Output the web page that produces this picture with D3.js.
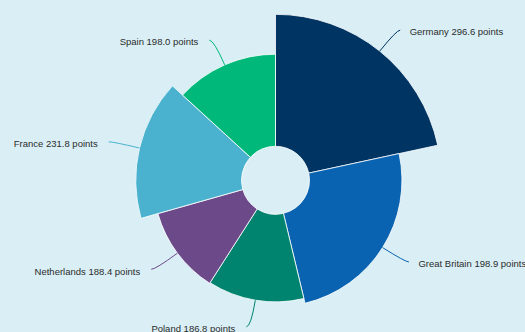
<!DOCTYPE html>
<html>
<head>
<meta charset="utf-8">
<script src="https://cdn.jsdelivr.net/npm/d3@7"></script>
<style>
  html, body { margin: 0; padding: 0; background: #d9eff5; }
  svg { display: block; }
  .label { font-family: "Liberation Sans", Arial, sans-serif; font-size: 9.5px; fill: #2b2b2b; }
</style>
</head>
<body>
<svg id="chart"></svg>
<script>
var countries = ["Germany", "Great Britain", "Poland", "Netherlands", "France", "Spain"];
var points = [296.6, 198.9, 186.8, 188.4, 231.8, 198.0];
// share of the circle each slice takes (in degrees)
var sliceShare = [77.8, 88.7, 46.1, 41.6, 58.3, 47.5];
var colors = ["#003462", "#0a63b0", "#00846f", "#6c4a8a", "#4ab2cf", "#00b87a"];

var width = 525, height = 332;
var cx = 275.5, cy = 180.3;
var innerR = 34;

var svg = d3.select("#chart")
  .attr("width", width)
  .attr("height", height);

var g = svg.append("g")
  .attr("transform", "translate(" + cx + "," + cy + ")");

var rScale = d3.scaleLinear()
  .domain([0, 296.6])
  .range([46, 166]);

var data = countries.map(function(c, i) {
  return { name: c, value: points[i], share: sliceShare[i], color: colors[i] };
});

var pie = d3.pie()
  .sort(null)
  .value(function(d) { return d.share; });

var arcs = pie(data);

var arc = d3.arc()
  .innerRadius(innerR)
  .outerRadius(function(d) { return rScale(d.data.value); });

g.selectAll(".slice")
  .data(arcs)
  .enter().append("path")
  .attr("class", "slice")
  .attr("d", arc)
  .attr("fill", function(d) { return d.data.color; })
  .attr("stroke", "#ffffff")
  .attr("stroke-width", 0.8);

// connector lines + labels
function labelGeom(d) {
  var a = (d.startAngle + d.endAngle) / 2;
  var r = rScale(d.data.value);
  var sx = Math.sin(a), sy = -Math.cos(a);
  var start = [sx * r, sy * r];
  var ctrl = [sx * (r + 27), sy * (r + 27)];
  var right = sx >= 0;
  var end = [ctrl[0] + (right ? 3.5 : -4.5), ctrl[1]];
  return { start: start, ctrl: ctrl, end: end, right: right };
}

g.selectAll(".connector")
  .data(arcs)
  .enter().append("path")
  .attr("class", "connector")
  .attr("fill", "none")
  .attr("stroke", function(d) { return d.data.color; })
  .attr("stroke-width", 1)
  .attr("d", function(d) {
    var p = labelGeom(d);
    return "M" + p.start + "Q" + p.ctrl + " " + p.end;
  });

g.selectAll(".label")
  .data(arcs)
  .enter().append("text")
  .attr("class", "label")
  .attr("x", function(d) {
    var p = labelGeom(d);
    return p.right ? p.end[0] + 9.5 : p.end[0] - 11;
  })
  .attr("y", function(d) { return labelGeom(d).end[1] + 2; })
  .attr("dy", "0.35em")
  .attr("text-anchor", function(d) { return labelGeom(d).right ? "start" : "end"; })
  .text(function(d) { return d.data.name + " " + d3.format(".1f")(d.data.value) + " points"; });
</script>
</body>
</html>
